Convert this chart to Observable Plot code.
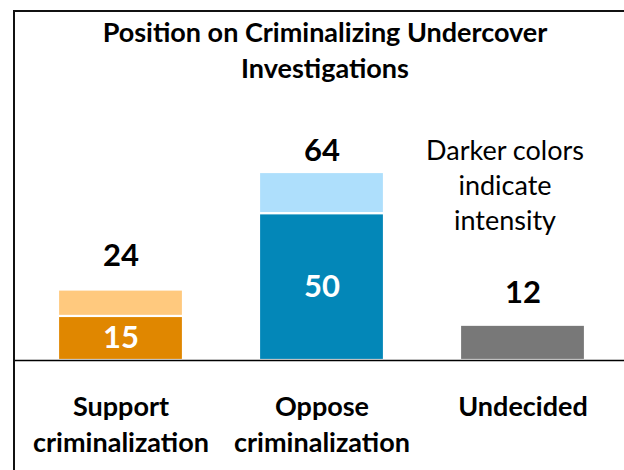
<!DOCTYPE html>
<html>
<head>
<meta charset="utf-8">
<script src="https://cdn.jsdelivr.net/npm/d3@7"></script>
<script src="https://cdn.jsdelivr.net/npm/@observablehq/plot@0.6"></script>
<style>
  html, body { margin: 0; padding: 0; background: #fff; }
  #wrap { position: relative; width: 624px; height: 470px; overflow: hidden; font-family: Lato, "Open Sans", sans-serif; }
  #frame { position: absolute; left: 13px; top: 10px; right: -10px; bottom: -10px;
           border-top: 2px solid #111; border-left: 2px solid #111; pointer-events: none; }
  #title { box-sizing: border-box; height: 95px; padding-top: 14px; padding-left: 26px;
           text-align: center; font-weight: bold; font-size: 27px; line-height: 36px; color: #000; }
  #chart svg { display: block; }
</style>
</head>
<body>
<div id="wrap">
  <div id="title">Position on Criminalizing Undercover<br>Investigations</div>
  <div id="chart"></div>
  <div id="frame"></div>
</div>
<script>
const categories = ["Support criminalization", "Oppose criminalization", "Undecided"];
const tickLabels = ["Support\ncriminalization", "Oppose\ncriminalization", "Undecided"];
const totals = [24, 64, 12];
const intense = [15, 50, 12];
const annotation = "Darker colors\nindicate\nintensity";

const darkColors = ["#E08700", "#0387B8", "#787878"];
const lightColors = ["#FFC97E", "#AEDFFC", "#787878"];

const rows = [];
categories.forEach((c, i) => {
  rows.push({cat: c, part: "intense", value: intense[i], color: darkColors[i]});
  const rest = totals[i] - intense[i];
  if (rest > 0) rows.push({cat: c, part: "rest", value: rest, color: lightColors[i]});
});
const totalRows = categories.map((c, i) => ({cat: c, total: totals[i]}));
const innerRows = categories.map((c, i) => ({cat: c, intense: intense[i], show: totals[i] > intense[i]}))
  .filter(d => d.show);

const labelMap = new Map(categories.map((c, i) => [c, tickLabels[i]]));
const numFont = {fill: "#000", fontSize: 31, fontWeight: "bold", lineAnchor: "middle"};

const chart = Plot.plot({
  width: 624,
  height: 375,
  marginLeft: 15,
  marginRight: 0,
  marginTop: 30,
  marginBottom: 110,
  x: {domain: categories, range: [57, 587], paddingInner: 0.376, paddingOuter: 0, axis: null},
  y: {domain: [0, 80], axis: null},
  color: {type: "identity"},
  style: {fontFamily: "Lato, 'Open Sans', sans-serif", background: "transparent"},
  marks: [
    Plot.barY(rows, {x: "cat", y: "value", fill: "color", stroke: "white", strokeWidth: 2.2}),
    Plot.ruleY([0], {stroke: "#000", strokeWidth: 1.5}),
    Plot.axisX({label: null, tickSize: 0, tickPadding: 30, fontSize: 27, fontWeight: "bold", lineHeight: 1.33,
                fill: "#000", tickFormat: d => labelMap.get(d)}),
    Plot.text(innerRows, {x: "cat", y: d => d.intense / 2, text: d => String(d.intense),
                          ...numFont, fill: "white"}),
    Plot.text(totalRows.filter(d => d.cat === "Support criminalization"),
              {x: "cat", y: "total", text: d => String(d.total), ...numFont, dy: -34}),
    Plot.text(totalRows.filter(d => d.cat === "Oppose criminalization"),
              {x: "cat", y: "total", text: d => String(d.total), ...numFont, dy: -21}),
    Plot.text(totalRows.filter(d => d.cat === "Undecided"),
              {x: "cat", y: "total", text: d => String(d.total), ...numFont, dy: -32}),
    Plot.text([annotation], {frameAnchor: "top", text: d => d, dx: 185, dy: 9, lineAnchor: "top",
                             fontSize: 27, lineHeight: 1.31, fill: "#000", textAnchor: "middle"})
  ]
});
document.getElementById("chart").appendChild(chart);
</script>
</body>
</html>
